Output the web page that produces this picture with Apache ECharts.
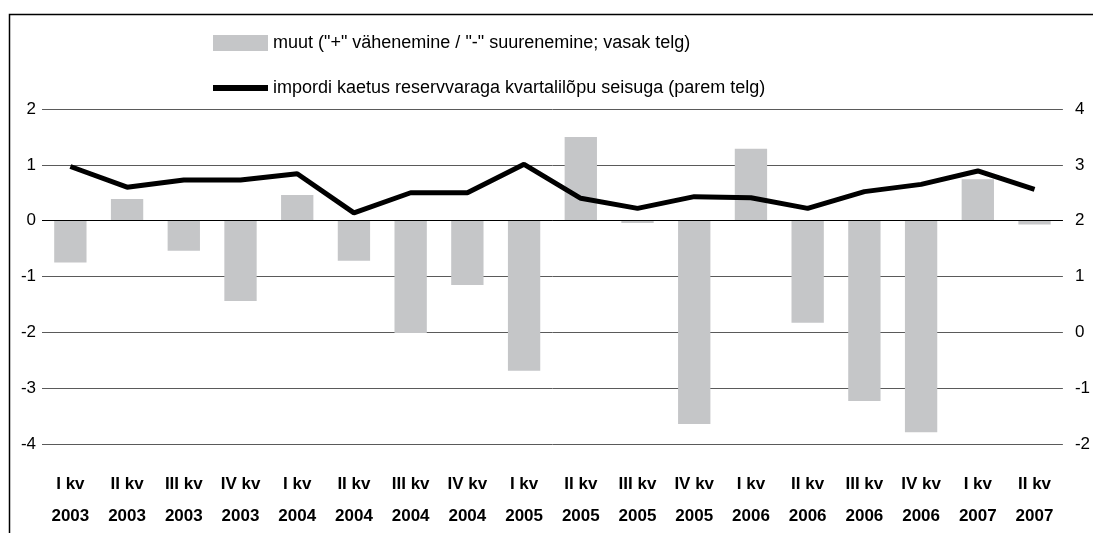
<!DOCTYPE html>
<html>
<head>
<meta charset="utf-8">
<script src="https://cdn.jsdelivr.net/npm/echarts@6/dist/echarts.min.js"></script>
<style>
html,body{margin:0;padding:0;background:#fff;}
#c{width:1093px;height:533px;}
</style>
</head>
<body>
<div id="c"></div>
<script>
const quarters = ['I kv','II kv','III kv','IV kv','I kv','II kv','III kv','IV kv','I kv','II kv','III kv','IV kv','I kv','II kv','III kv','IV kv','I kv','II kv'];
const years = ['2003','2003','2003','2003','2004','2004','2004','2004','2005','2005','2005','2005','2006','2006','2006','2006','2007','2007'];
const barName = 'muut ("+" vähenemine / "-" suurenemine; vasak telg)';
const lineName = 'impordi kaetus reservvaraga kvartalilõpu seisuga (parem telg)';
const barValues = [-0.75, 0.39, -0.54, -1.44, 0.46, -0.72, -2.01, -1.15, -2.69, 1.50, -0.04, -3.64, 1.29, -1.83, -3.23, -3.79, 0.74, -0.07];
const lineValues = [2.97, 2.60, 2.73, 2.73, 2.84, 2.14, 2.50, 2.50, 3.01, 2.40, 2.22, 2.43, 2.41, 2.22, 2.52, 2.65, 2.89, 2.56];
const leftTicks = {min: -4, max: 2, interval: 1};
const rightTicks = {min: -2, max: 4, interval: 1};

const categories = quarters.map((q, i) => q + '\n' + years[i]);
const FONT = "'Liberation Sans', Arial, Helvetica, sans-serif";

const chart = echarts.init(document.getElementById('c'));
chart.setOption({
  animation: false,
  backgroundColor: '#fff',
  graphic: [{
    type: 'rect', left: 7, top: 12, z: 100,
    shape: {width: 1200, height: 700},
    style: {fill: 'none', stroke: '#000', lineWidth: 1.5}
  }],
  legend: [{
    data: [barName],
    left: 213, top: 34,
    itemWidth: 55, itemHeight: 16, itemGap: 4,
    icon: 'rect',
    textStyle: {fontFamily: FONT, fontSize: 18, color: '#000'},
    padding: 0
  }, {
    data: [lineName],
    left: 213, top: 79,
    itemWidth: 55, itemHeight: 6,
    icon: 'rect',
    textStyle: {fontFamily: FONT, fontSize: 18, color: '#000'},
    padding: 0
  }],
  grid: {left: 42, right: 24, top: 109, bottom: 89, containLabel: false},
  xAxis: {
    type: 'category',
    data: categories,
    axisLine: {show: false},
    axisTick: {show: false},
    axisLabel: {
      interval: 0, margin: 24,
      fontFamily: FONT, fontSize: 17, fontWeight: 'bold', color: '#000',
      lineHeight: 32
    }
  },
  yAxis: [{
    type: 'value', position: 'left',
    min: leftTicks.min, max: leftTicks.max, interval: leftTicks.interval,
    axisLine: {show: false}, axisTick: {show: false},
    axisLabel: {fontFamily: FONT, fontSize: 17, color: '#000', margin: 6},
    splitLine: {lineStyle: {color: '#5a5a5a', width: 1}}
  }, {
    type: 'value', position: 'right',
    min: rightTicks.min, max: rightTicks.max, interval: rightTicks.interval,
    axisLine: {show: false}, axisTick: {show: false},
    axisLabel: {fontFamily: FONT, fontSize: 17, color: '#000', margin: 12},
    splitLine: {show: false}
  }],
  series: [{
    name: barName,
    type: 'bar',
    yAxisIndex: 0,
    data: barValues,
    barCategoryGap: '43%',
    itemStyle: {color: '#c5c6c8'},
    markLine: {
      silent: true, symbol: 'none', label: {show: false},
      lineStyle: {color: '#000', width: 1, type: 'solid'},
      data: [{yAxis: 0}]
    }
  }, {
    name: lineName,
    type: 'line',
    yAxisIndex: 1,
    data: lineValues,
    symbol: 'none',
    lineStyle: {color: '#000', width: 5},
    itemStyle: {color: '#000'},
    z: 5
  }]
});
</script>
</body>
</html>
